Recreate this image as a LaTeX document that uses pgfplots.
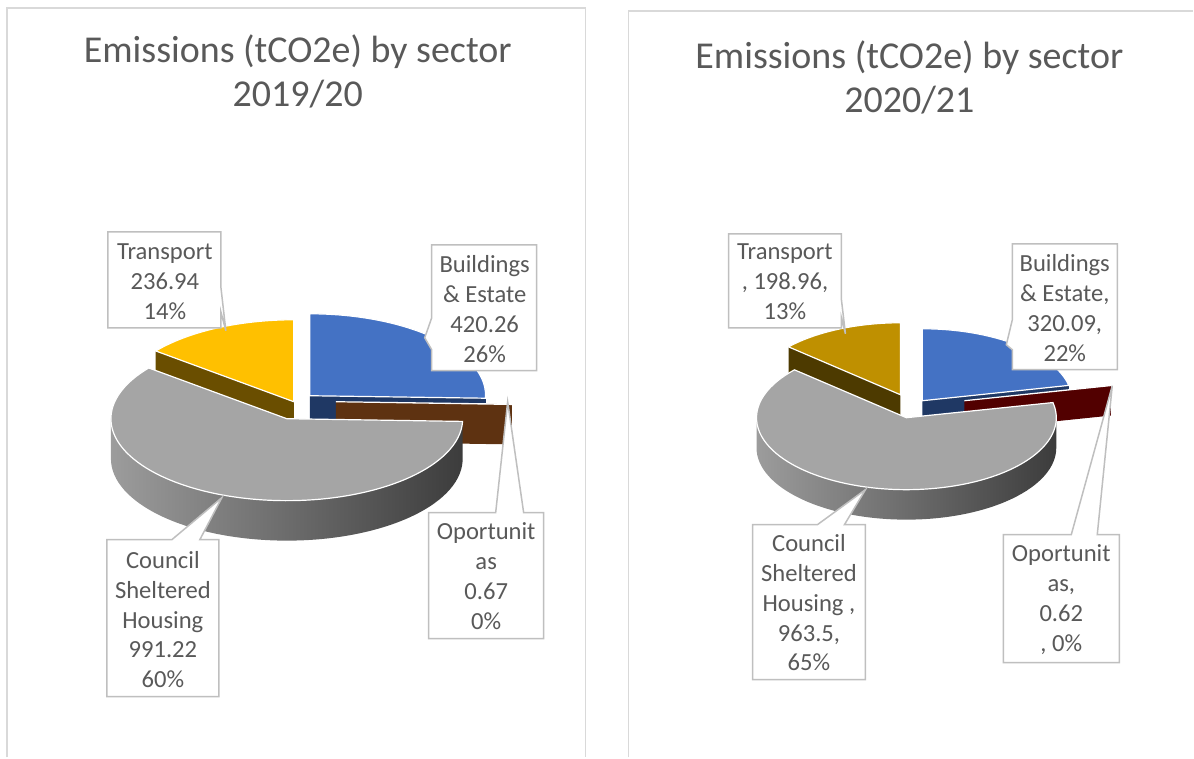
\documentclass[border=0pt]{standalone}
\usepackage{pgfplots}
\pgfplotsset{compat=1.18}
\usepackage{fontspec}
\setmainfont{Carlito}
\definecolor{txt}{HTML}{595959}
\definecolor{boxc}{HTML}{BFBFBF}
\definecolor{panelc}{HTML}{D9D9D9}
\definecolor{blueT}{HTML}{4472C4}
\definecolor{blueS}{HTML}{1F3864}
\definecolor{yelT}{HTML}{FFC000}
\definecolor{yelS}{HTML}{6A4E00}
\definecolor{brnT}{HTML}{843C0C}
\definecolor{brnS}{HTML}{5E3211}
\definecolor{gryT}{HTML}{A5A5A5}
\definecolor{gryL}{HTML}{9C9C9C}
\definecolor{gryR}{HTML}{3C3C3C}
\definecolor{yelTb}{HTML}{BF9000}
\definecolor{yelSb}{HTML}{4D3A00}
\definecolor{redT}{HTML}{7F0000}
\definecolor{redS}{HTML}{520000}

% ---- data (tCO2e) ----
\def\LBuild{420.26}\def\LOpor{0.67}\def\LCoun{991.22}\def\LTran{236.94}
\def\RBuild{320.09}\def\ROpor{0.62}\def\RCoun{963.5}\def\RTran{198.96}

\pgfmathsetmacro\LTot{\LBuild+\LOpor+\LCoun+\LTran}
\pgfmathsetmacro\La{360*(\LBuild/\LTot)}
\pgfmathsetmacro\Lb{360*((\LBuild+\LOpor)/\LTot)}
\pgfmathsetmacro\Lc{360*((\LBuild+\LOpor+\LCoun)/\LTot)}
\pgfmathsetmacro\RTot{\RBuild+\ROpor+\RCoun+\RTran}
\pgfmathsetmacro\Ra{360*(\RBuild/\RTot)}
\pgfmathsetmacro\Rb{360*((\RBuild+\ROpor)/\RTot)}
\pgfmathsetmacro\Rc{360*((\RBuild+\ROpor+\RCoun)/\RTot)}

% 3D pie slice: #1,#2 apex (px), #3,#4 start/end angle (clockwise from top),
% #5 top colour, #6 face colour, #7,#8 curved side shading colours
% geometry from \pieRx, \pieRy, \pieH (px); 1px = 0.5pt
\newcommand{\pieslice}[8]{%
  \pgfmathsetmacro\pAs{90-#3}%
  \pgfmathsetmacro\pAe{90-#4}%
  \pgfmathsetmacro\pRx{0.5*\pieRx}%
  \pgfmathsetmacro\pRy{0.5*\pieRy}%
  \pgfmathsetmacro\pH{0.5*\pieH}%
  \def\apex{(axis cs:#1,-#2)}%
  \pgfmathsetmacro\pieTmp{cos(\pAs)}%
  \ifdim\pieTmp pt<-0.01pt
    \fill[#6] \apex ++(0pt,-\pH pt) -- ++(\pAs:\pRx pt and \pRy pt) -- ++(0pt,\pH pt) -- \apex -- cycle;
  \fi
  \pgfmathsetmacro\pieTmp{cos(\pAe)}%
  \ifdim\pieTmp pt>0.01pt
    \fill[#6] \apex ++(0pt,-\pH pt) -- ++(\pAe:\pRx pt and \pRy pt) -- ++(0pt,\pH pt) -- \apex -- cycle;
  \fi
  \pgfmathsetmacro\pLo{max(\pAe,-180)}%
  \pgfmathsetmacro\pHi{min(\pAs,0)}%
  \ifdim\pLo pt<\pHi pt
    \shade[left color=#7, right color=#8] \apex ++(\pLo:\pRx pt and \pRy pt)
      arc[start angle=\pLo, end angle=\pHi, x radius=\pRx pt, y radius=\pRy pt]
      -- ++(0pt,-\pH pt)
      arc[start angle=\pHi, end angle=\pLo, x radius=\pRx pt, y radius=\pRy pt] -- cycle;
  \fi
  \filldraw[fill=#5, draw=white, line width=0.6pt] \apex -- ++(\pAs:\pRx pt and \pRy pt)
      arc[start angle=\pAs, end angle=\pAe, x radius=\pRx pt, y radius=\pRy pt] -- cycle;
}

\tikzset{lbl/.style={align=center, text=txt, font=\fontsize{12.3}{15}\selectfont},
  box/.style={fill=white, draw=boxc, line width=0.75pt},
  ttl/.style={anchor=base, text=txt, font=\fontsize{19}{23}\selectfont}}

\begin{document}
\begin{tikzpicture}
\begin{axis}[width=597pt, height=379pt, scale only axis,
  xmin=0, xmax=1194, ymin=-758, ymax=0, enlargelimits=false,
  hide axis, clip=false]
\path (axis cs:0,0) rectangle (axis cs:1194,-758);
% panels
\draw[panelc, line width=0.8pt] (axis cs:7,-758) -- (axis cs:7,-8) -- (axis cs:586,-8) -- (axis cs:586,-758);
\draw[panelc, line width=0.8pt] (axis cs:629,-758) -- (axis cs:629,-11) -- (axis cs:1194,-11);
% titles
\node[ttl] at (axis cs:298,-63) {Emissions (tCO2e) by sector};
\node[ttl] at (axis cs:298,-107) {2019/20};
\node[ttl] at (axis cs:910,-69) {Emissions (tCO2e) by sector};
\node[ttl] at (axis cs:910,-113) {2020/21};

% ---- left pie 2019/20 ----
\pgfplotsextra{%
  \def\pieRx{176}\def\pieRy{82}\def\pieH{40}%
  \pieslice{294}{402}{\Lc}{360}{yelT}{yelS}{yelS}{yelS}%
  \pieslice{310}{396}{0}{\La}{blueT}{blueS}{blueS}{blueS}%
  \pieslice{336}{402}{\La}{\Lb}{brnT}{brnS}{brnS}{brnS}%
  \pieslice{287}{419}{\Lb}{\Lc}{gryT}{gryT}{gryL}{gryR}%
}
% ---- right pie 2020/21 ----
\pgfplotsextra{%
  \def\pieRx{150}\def\pieRy{72}\def\pieH{30}%
  \pieslice{901}{395}{\Rc}{360}{yelTb}{yelSb}{yelSb}{yelSb}%
  \pieslice{923}{401}{0}{\Ra}{blueT}{blueS}{blueS}{blueS}%
  \pieslice{965}{401}{\Ra}{\Rb}{redT}{redS}{redS}{redS}%
  \pieslice{907}{418}{\Rb}{\Rc}{gryT}{gryT}{gryL}{gryR}%
}

% ---- callouts left ----
\filldraw[box] (axis cs:108,-232) -- (axis cs:221,-232) -- (axis cs:221,-287) -- (axis cs:226,-331) -- (axis cs:221,-312) -- (axis cs:221,-328) -- (axis cs:108,-328) -- cycle;
\node[lbl] at (axis cs:165,-282) {Transport\\236.94\\14\%};
\filldraw[box] (axis cs:432,-245) -- (axis cs:537,-245) -- (axis cs:537,-371) -- (axis cs:432,-371) -- (axis cs:432,-350) -- (axis cs:425,-338) -- (axis cs:432,-318) -- cycle;
\node[lbl] at (axis cs:485,-309) {Buildings\\\& Estate\\420.26\\26\%};
\filldraw[box] (axis cs:429,-513) -- (axis cs:496,-513) -- (axis cs:508,-402) -- (axis cs:524,-513) -- (axis cs:544,-513) -- (axis cs:544,-639) -- (axis cs:429,-639) -- cycle;
\node[lbl] at (axis cs:486.5,-577) {Oportunit\\as\\0.67\\0\%};
\filldraw[box] (axis cs:107,-540) -- (axis cs:172,-540) -- (axis cs:222,-498) -- (axis cs:200,-540) -- (axis cs:219,-540) -- (axis cs:219,-697) -- (axis cs:107,-697) -- cycle;
\node[lbl] at (axis cs:163,-620) {Council\\Sheltered\\Housing\\991.22\\60\%};

% ---- callouts right ----
\filldraw[box] (axis cs:729,-234) -- (axis cs:842,-234) -- (axis cs:842,-300) -- (axis cs:846,-334) -- (axis cs:842,-318) -- (axis cs:842,-328) -- (axis cs:729,-328) -- cycle;
\node[lbl] at (axis cs:785.5,-282) {Transport\\, 198.96,\\13\%};
\filldraw[box] (axis cs:1013,-244) -- (axis cs:1118,-244) -- (axis cs:1118,-370) -- (axis cs:1013,-370) -- (axis cs:1013,-350) -- (axis cs:1007,-345) -- (axis cs:1013,-320) -- cycle;
\node[lbl] at (axis cs:1065.5,-308) {Buildings\\\& Estate,\\320.09,\\22\%};
\filldraw[box] (axis cs:1004,-535) -- (axis cs:1072,-535) -- (axis cs:1113,-386) -- (axis cs:1098,-535) -- (axis cs:1120,-535) -- (axis cs:1120,-663) -- (axis cs:1004,-663) -- cycle;
\node[lbl] at (axis cs:1062,-600) {Oportunit\\as,\\0.62\\, 0\%};
\filldraw[box] (axis cs:753,-525) -- (axis cs:818,-525) -- (axis cs:866,-490) -- (axis cs:845,-525) -- (axis cs:866,-525) -- (axis cs:866,-680) -- (axis cs:753,-680) -- cycle;
\node[lbl] at (axis cs:809.5,-603) {Council\\Sheltered\\Housing ,\\963.5,\\65\%};
\end{axis}
\end{tikzpicture}
\end{document}
